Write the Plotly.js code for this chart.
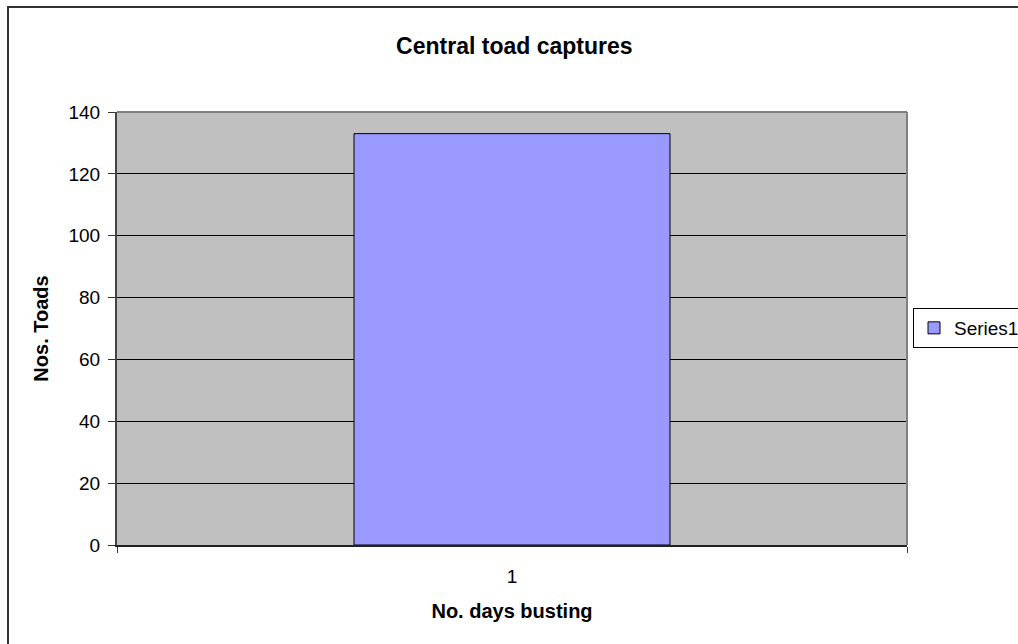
<!DOCTYPE html>
<html><head><meta charset="utf-8">
<script src="https://cdn.plot.ly/plotly-3.0.1.min.js"></script>
<style>body{margin:0;background:#fff}#c{width:1018px;height:644px}</style>
</head><body><div id="c"></div>
<script>
const categories = ["1"];
const series1 = [133];
const seriesName = "Series1";
const yTicks = [0, 20, 40, 60, 80, 100, 120, 140];

const L = 117, R = 907, T = 112, B = 545, W = 1018, H = 644;
const pw = R - L, ph = B - T;

const trace = {
  type: 'bar', x: categories, y: series1, name: seriesName,
  width: 0.4,
  marker: {color: '#9999FF', line: {color: '#000000', width: 1}},
  showlegend: true
};

const layout = {
  width: W, height: H,
  margin: {l: L, r: W - R, t: T, b: H - B, pad: 0, autoexpand: false},
  paper_bgcolor: 'rgba(0,0,0,0)',
  plot_bgcolor: '#C0C0C0',
  font: {family: 'Arial, Liberation Sans, sans-serif', color: '#000', size: 19},
  title: {text: '<b>Central toad captures</b>', font: {size: 23}, x: 512 / W, xanchor: 'center', xref: 'paper', y: 1 - 46/H, yanchor: 'middle'},
  xaxis: {
    type: 'category', tickson: 'boundaries', ticks: 'outside', ticklen: 6, tickcolor: '#333',
    showline: true, linecolor: '#222', linewidth: 2, showgrid: false,
    tickfont: {size: 19}, ticklabelstandoff: 13,
    title: {text: '<b>No. days busting</b>', font: {size: 20}, standoff: 18}
  },
  yaxis: {
    range: [0, 140], tickvals: yTicks, ticks: 'outside', ticklen: 7, tickcolor: '#333',
    showline: true, linecolor: '#444', linewidth: 2,
    showgrid: true, gridcolor: '#000', gridwidth: 1, zeroline: false,
    tickfont: {size: 19}, ticklabelstandoff: 4,
    title: {text: '<b>Nos. Toads</b>', font: {size: 20}, standoff: 14}
  },
  legend: {
    x: (913 - L) / pw, y: (B - 328) / ph, xanchor: 'left', yanchor: 'middle',
    bordercolor: '#000', borderwidth: 1, bgcolor: '#fff',
    font: {size: 19}, itemwidth: 30
  },
  shapes: [
    {type: 'rect', xref: 'paper', yref: 'paper',
     x0: (8 - L) / pw, x1: (1100 - L) / pw, y0: (B - 700) / ph, y1: (B - 7) / ph,
     line: {color: '#333', width: 2}, fillcolor: 'rgba(0,0,0,0)', layer: 'below'},
    {type: 'line', xref: 'paper', yref: 'paper', x0: 0, x1: 1, y0: 1, y1: 1,
     line: {color: '#808080', width: 2}},
    {type: 'line', xref: 'paper', yref: 'paper', x0: 1, x1: 1, y0: 0, y1: 1,
     line: {color: '#808080', width: 2}}
  ]
};

Plotly.newPlot('c', [trace], layout, {displayModeBar: false, staticPlot: true});
</script></body></html>
